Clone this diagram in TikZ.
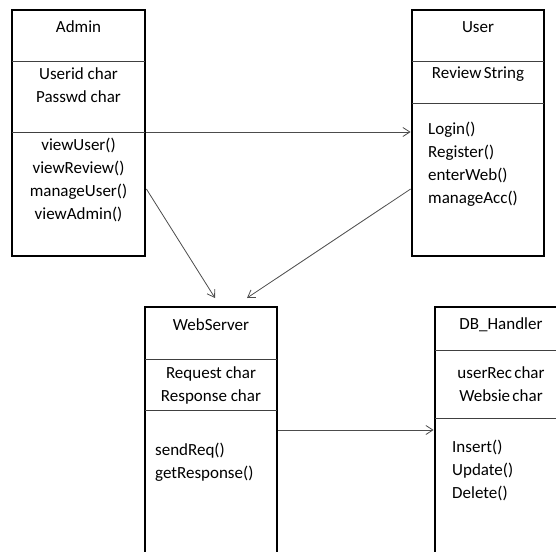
\documentclass[tikz,border=0pt]{standalone}
\usepackage{fontspec}
\setmainfont{Carlito}
\usetikzlibrary{arrows.meta}
\begin{document}
\begin{tikzpicture}[x=1pt,y=-1pt,
  classbox/.style={draw=black,line width=2.8pt,rectangle,inner sep=0pt},
  divider/.style={draw=black!75,line width=0.9pt},
  link/.style={draw=black!70,line width=0.8pt,-{Straight Barb[length=7pt,width=9pt]}},
  txt/.style={font=\fontsize{17}{23}\selectfont,inner sep=0pt,text=black},
  ctxt/.style={txt,align=center},
  ltxt/.style={txt,align=left,anchor=west}]
\useasboundingbox (0,0) rectangle (556,551);
\clip (0,0) rectangle (556,551);

% class boxes
\node[classbox,minimum width=133pt,minimum height=246pt] (admin) at (78.5,133) {};
\node[classbox,minimum width=132pt,minimum height=246pt] (user) at (478,133) {};
\node[classbox,minimum width=132pt,minimum height=300pt] (web) at (211,457) {};
\node[classbox,minimum width=132pt,minimum height=300pt] (db) at (501,457) {};

% compartment lines
\draw[divider] (12,61) -- (145,61);
\draw[divider] (12,132) -- (145,132);
\draw[divider] (412,61) -- (544,61);
\draw[divider] (412,103) -- (544,103);
\draw[divider] (145,359) -- (277,359);
\draw[divider] (145,410) -- (277,410);
\draw[divider] (435,350) -- (567,350);
\draw[divider] (435,418) -- (567,418);

% Admin
\node[ctxt] (adminName) at (78.5,27) {Admin};
\node[ctxt] (adminAttr) at (78.5,85.5) {Userid char\\Passwd char};
\node[ctxt] (adminOps) at (78.5,180) {viewUser()\\viewReview()\\manageUser()\\viewAdmin()};

% User
\node[ctxt] (userName) at (478,27) {User};
\node[ctxt] (userAttr) at (478,74) {Review\hspace{-1.5pt} String};
\node[ltxt] (userOps) at (428,164) {Login()\\Register()\\enterWeb()\\manageAcc()};

% WebServer
\node[ctxt] (webName) at (211,325) {WebServer};
\node[ctxt] (webAttr) at (211,385) {Request char\\Response char};
\node[ltxt] (webOps) at (155,462.5) {sendReq()\\getResponse()};

% DB_Handler
\node[ctxt] (dbName) at (501,325) {DB\_Handler};
\node[ctxt] (dbAttr) at (501,384.5) {userRec\hspace{-1.5pt} char\\Websie\hspace{-1.5pt} char};
\node[ltxt] (dbOps) at (452,470) {Insert()\\Update()\\Delete()};

% connector end points on the box edges
\coordinate (aR1) at (admin.east |- 0,132);
\coordinate (uL1) at (user.west |- 0,132);
\coordinate (aR2) at (admin.east |- 0,189);
\coordinate (uL2) at (user.west |- 0,189);
\coordinate (wT1) at (215,298);
\coordinate (wT2) at (247,298);
\coordinate (wR) at (web.east |- 0,430);
\coordinate (dL) at (db.west |- 0,430);

% associations
\draw[link] (aR1) -- (uL1);
\draw[link] (aR2) -- (wT1);
\draw[link] (uL2) -- (wT2);
\draw[link] (wR) -- (dL);
\end{tikzpicture}
\end{document}
